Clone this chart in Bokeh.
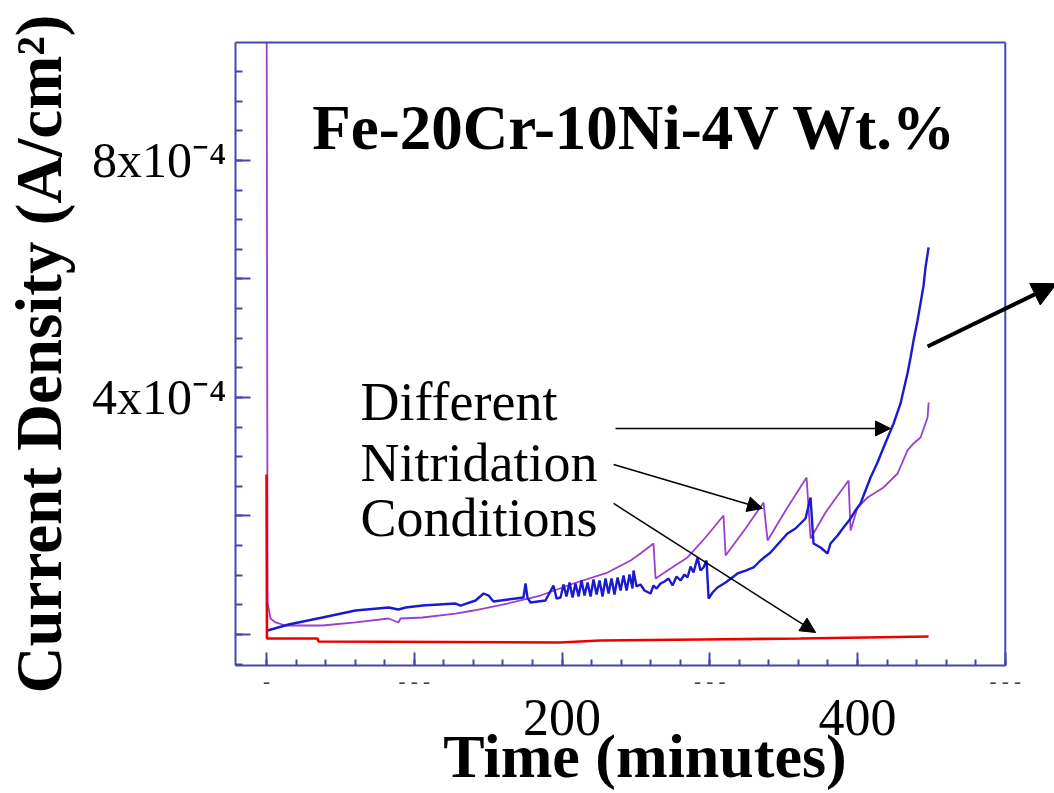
import numpy as np
from bokeh.plotting import figure
from bokeh.models import LinearAxis, FixedTicker, Range1d, Label, Arrow, NormalHead, Span
from bokeh.embed import file_html
from bokeh.resources import INLINE

# ---- data: time (minutes), current density in units of 1e-4 A/cm^2 ----
blue_t = [0.7, 14.9, 37.9, 60.2, 82.6, 89.3, 94.1, 105.6, 127.9, 131.3, 141.5, 146.9, 150.3, 153.6,
          173.9, 175.3, 176.6, 178.7, 188.8, 194.2, 196.3,
          199.0, 201.0, 203.0, 205.1, 207.1, 209.1, 211.2, 213.2, 215.2, 217.3, 219.3, 221.3, 223.4,
          225.4, 227.4, 229.4, 231.5, 233.5, 235.5, 237.6, 239.6, 241.6, 243.7, 245.7, 247.7, 248.4,
          250.4, 253.1, 255.8, 258.5, 259.9, 261.9, 264.0, 266.7, 269.4, 272.1, 274.8, 277.5, 280.2,
          282.9, 284.9, 287.0, 289.0, 291.7, 293.7, 295.8, 297.8, 299.2, 301.9, 305.2, 310.7, 318.8,
          324.2, 329.6, 334.3, 341.1, 346.5, 352.6, 358.0, 361.4, 364.8, 368.2, 370.2, 375.0, 379.7,
          381.7, 386.5, 390.5, 395.3, 398.6, 402.0, 405.4, 408.8, 413.5, 417.6, 421.0, 424.4, 429.1,
          431.1, 433.8, 435.9, 437.9, 440.6, 442.6, 444.7, 446.0, 448.1]
blue_j = [0.068, 0.169, 0.287, 0.405, 0.456, 0.422, 0.456, 0.489, 0.523, 0.489, 0.574, 0.692, 0.658, 0.557,
          0.624, 0.861, 0.624, 0.540, 0.574, 0.827, 0.608,
          0.624, 0.844, 0.641, 0.878, 0.624, 0.861, 0.641, 0.911, 0.658, 0.878, 0.641, 0.928, 0.675,
          0.911, 0.641, 0.945, 0.692, 0.945, 0.675, 0.962, 0.743, 0.996, 0.743, 1.013, 0.776, 1.080,
          0.810, 0.844, 0.743, 0.709, 0.692, 0.827, 0.776, 0.861, 0.895, 0.945, 0.827, 0.979, 0.911,
          1.013, 0.962, 1.148, 1.046, 1.300, 1.080, 1.131, 1.249, 0.608, 0.709, 0.793, 0.878, 1.030,
          1.080, 1.131, 1.249, 1.384, 1.536, 1.705, 1.789, 1.873, 1.958, 2.312, 1.536, 1.468, 1.367,
          1.536, 1.671, 1.806, 1.958, 2.093, 2.211, 2.430, 2.650, 2.903, 3.156, 3.359, 3.561, 3.899,
          4.118, 4.405, 4.675, 4.962, 5.300, 5.587, 5.890, 6.194, 6.532]

purple_t = [0.0, 0.7, 2.7, 6.1, 12.9, 37.9, 60.2, 82.6, 89.3, 90.7, 105.6, 127.9, 140.1, 163.1, 185.4,
            207.8, 230.8, 246.4, 253.1, 261.9, 263.3, 273.4, 284.9, 297.1, 309.3, 310.7, 324.2, 336.4,
            339.1, 351.3, 365.5, 368.2, 378.3, 393.9, 395.3, 400.0, 406.8, 417.6, 427.1, 433.8, 437.9,
            442.6, 447.4, 448.1]
purple_j = [12.0, 0.540, 0.270, 0.203, 0.152, 0.152, 0.203, 0.270, 0.203, 0.270, 0.287, 0.354, 0.405,
            0.523, 0.658, 0.861, 1.046, 1.249, 1.367, 1.536, 0.945, 1.114, 1.300, 1.637, 2.008, 1.333,
            1.789, 2.228, 1.587, 2.093, 2.650, 1.620, 2.059, 2.599, 1.755, 2.143, 2.312, 2.481, 2.717,
            3.106, 3.224, 3.325, 3.663, 3.916]

red_t = [0.0, 0.3, 34.5, 35.2, 198.7, 225.8, 293.7, 361.4, 448.1]
red_j = [2.70, -0.068, -0.068, -0.118, -0.135, -0.101, -0.084, -0.068, -0.034]

scale = 1e-4
x_major = [0, 100, 200, 300, 400, 500]
x_near_labels = ["-", "- - -", "", "- - -", "", "- - -"]
x_big_ticks = [200, 400]
x_big_labels = ["200", "400"]
y_major = [0.0, 2e-4, 4e-4, 6e-4, 8e-4, 1e-3]
y_labels = ["", "", "4x10\u207b\u2074", "", "8x10\u207b\u2074", ""]

FRAME = "#4646b0"
SERIF = "Liberation Serif"
X_END = 500
Y_TOP = 9.99e-4

p = figure(width=1054, height=793, output_backend="svg", toolbar_location=None,
           x_range=Range1d(-21, 533.3), y_range=Range1d(-0.523e-4, Y_TOP),
           min_border_left=235, min_border_right=0, min_border_top=42, min_border_bottom=128,
           background_fill_color="white", border_fill_color="white")
p.grid.visible = False
p.outline_line_color = None

# x axis nearest the frame: ticks + faint dash labels
xa = p.xaxis[0]
xa.bounds = (-21, X_END)
xa.ticker = FixedTicker(ticks=x_major, minor_ticks=list(np.arange(0, 501, 20)))
xa.major_label_overrides = {t: s for t, s in zip(x_major, x_near_labels)}
xa.major_label_text_font = SERIF
xa.major_label_text_font_size = "21px"
xa.major_label_text_color = "#444444"
xa.major_label_standoff = 3
xa.axis_line_color = FRAME
xa.axis_line_width = 2
xa.major_tick_line_color = FRAME
xa.minor_tick_line_color = FRAME
xa.major_tick_line_width = 2
xa.minor_tick_line_width = 2
xa.major_tick_in = 13
xa.major_tick_out = 0
xa.minor_tick_in = 6
xa.minor_tick_out = 0

# second x axis: the big tick labels and the title of the axis
xb = LinearAxis(ticker=FixedTicker(ticks=x_big_ticks, minor_ticks=[]))
xb.major_label_overrides = {t: s for t, s in zip(x_big_ticks, x_big_labels)}
xb.axis_line_color = None
xb.major_tick_line_color = None
xb.minor_tick_line_color = None
xb.major_tick_in = 0
xb.major_tick_out = 0
xb.major_label_standoff = 4
xb.major_label_text_font = SERIF
xb.major_label_text_font_size = "52px"
xb.major_label_text_color = "black"
xb.axis_label = "Time (minutes)"
xb.axis_label_text_font = SERIF
xb.axis_label_text_font_style = "bold"
xb.axis_label_text_font_size = "62px"
xb.axis_label_text_color = "black"
xb.axis_label_standoff = -16
p.add_layout(xb, "below")

# top border drawn as a bare axis line limited to the box
xt = LinearAxis(ticker=FixedTicker(ticks=[], minor_ticks=[]), bounds=(-21, X_END))
xt.axis_line_color = FRAME
xt.axis_line_width = 2
xt.major_tick_line_color = None
xt.minor_tick_line_color = None
xt.major_label_text_font_size = "1px"
xt.major_label_standoff = 0
p.add_layout(xt, "above")

# right border of the box
p.add_layout(Span(location=X_END, dimension="height", line_color=FRAME, line_width=2))

ya = p.yaxis[0]
ya.ticker = FixedTicker(ticks=y_major, minor_ticks=list(np.arange(-0.5e-4, 1.01e-3, 0.5e-4)))
ya.major_label_overrides = {t: s for t, s in zip(y_major, y_labels)}
ya.major_label_text_font = SERIF
ya.major_label_text_font_size = "50px"
ya.major_label_text_color = "black"
ya.major_label_standoff = 9
ya.axis_line_color = FRAME
ya.axis_line_width = 2
ya.major_tick_line_color = FRAME
ya.minor_tick_line_color = FRAME
ya.major_tick_line_width = 2
ya.minor_tick_line_width = 2
ya.major_tick_in = 15
ya.major_tick_out = 0
ya.minor_tick_in = 7
ya.minor_tick_out = 0
ya.axis_label = "Current Density (A/cm\u00b2)"
ya.axis_label_text_font = SERIF
ya.axis_label_text_font_style = "bold"
ya.axis_label_text_font_size = "65px"
ya.axis_label_text_color = "black"
ya.axis_label_standoff = 14

p.line(purple_t, np.array(purple_j) * scale, line_color="#9a3fd0", line_width=1.8)
p.line(blue_t, np.array(blue_j) * scale, line_color="#1a1ad0", line_width=2.4)
p.line(red_t, np.array(red_j) * scale, line_color="#ee0000", line_width=2.6)

p.add_layout(Label(x=31, y=8.54e-4, text="Fe-20Cr-10Ni-4V Wt.%", text_font=SERIF,
                   text_font_style="bold", text_font_size="63px", text_baseline="alphabetic",
                   text_color="black"))
for txt, yy in [("Different", 3.92e-4), ("Nitridation", 2.90e-4), ("Conditions", 1.96e-4)]:
    p.add_layout(Label(x=63.6, y=yy, text=txt, text_font=SERIF, text_font_size="54px",
                       text_baseline="alphabetic", text_color="black"))

def arrow(x0, y0, x1, y1, w, size):
    p.add_layout(Arrow(x_start=x0, y_start=y0 * scale, x_end=x1, y_end=y1 * scale,
                       line_color="black", line_width=w,
                       end=NormalHead(size=size, fill_color="black", line_color="black")))

arrow(236.2, 3.477, 422.3, 3.477, 1.5, 15)
arrow(234.9, 2.869, 335.7, 2.127, 1.5, 15)
arrow(234.9, 2.211, 371.6, 0.034, 1.5, 15)
arrow(447.4, 4.861, 534.7, 5.92, 4, 24)

open("out.html", "w").write(file_html(p, INLINE))
